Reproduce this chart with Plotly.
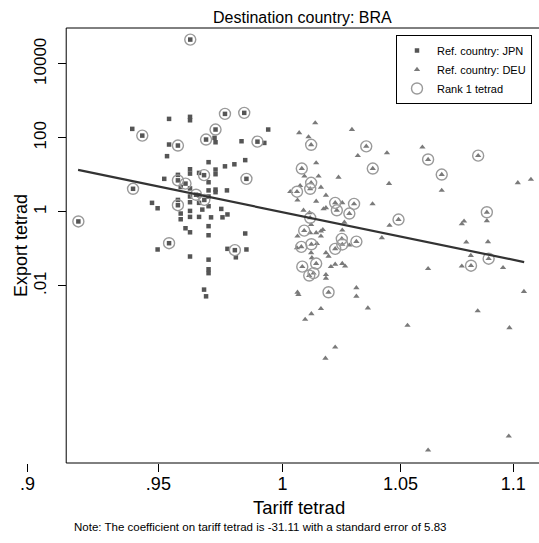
import math
import plotly.graph_objects as go

# ---------------- data ----------------
title_text = "Destination country: BRA"
x_title = "Tariff tetrad"
y_title = "Export tetrad"
note_text = "Note: The coefficient on tariff tetrad is -31.11 with a standard error of 5.83"

x_tick_vals = [0.9, 0.95, 1.0, 1.05, 1.1]
x_tick_text = [".9", ".95", "1", "1.05", "1.1"]
y_tick_vals = [0.01, 1, 100, 10000]
y_tick_text = [".01", "1", "100", "10000"]

jpn_tariff = [0.9626, 0.9542, 0.9625, 0.9625, 0.9765, 0.9843, 0.9398, 0.9437, 0.9727, 0.9941,
              0.9689, 0.9723, 0.9727, 0.9542, 0.9577, 0.9832, 0.9897, 0.9925, 0.9534, 0.9699,
              0.9625, 0.9625, 0.9727, 0.9727, 0.9765, 0.9803, 0.9847, 0.9681, 0.9661, 0.9523,
              0.9577, 0.9577, 0.9607, 0.9699, 0.9852, 0.9401, 0.9649, 0.9682, 0.9727, 0.9727,
              0.9773, 0.9699, 0.9577, 0.9475, 0.9497, 0.9625, 0.9625, 0.9625, 0.9588, 0.9588,
              0.9661, 0.9674, 0.9699, 0.9661, 0.9709, 0.9755, 0.9775, 0.9750, 0.9607, 0.9625,
              0.9699, 0.9699, 0.9847, 0.9542, 0.9497, 0.9775, 0.9852, 0.9809, 0.9805, 0.9625,
              0.9699, 0.9699, 0.9699, 0.9681, 0.9689, 0.9191, 0.9588, 0.9625, 0.9625, 0.9661,
              0.9699, 0.9577]
jpn_export = [45400, 326, 370, 299, 445, 474, 175, 115, 168, 168,
              90, 100, 76, 66, 62, 81, 79, 73, 32, 22,
              14.2, 10.8, 13.9, 10.4, 17, 19.3, 25, 9.8, 11.3, 7.8,
              10, 7.1, 5.8, 6.3, 7.8, 4.2, 2.9, 2.1, 4.0, 3.4,
              3.8, 3.8, 1.51, 1.75, 1.25, 1.82, 1.06, 0.73, 0.9, 0.63,
              1.75, 1.15, 1.42, 0.73, 0.71, 0.71, 0.85, 1.2, 0.36, 0.28,
              0.41, 0.233, 0.26, 0.142, 0.096, 0.1, 0.096, 0.059, 0.092, 0.062,
              0.051, 0.028, 0.022, 0.0079, 0.0052, 0.55, 4.7, 4.3, 2.6, 2.8,
              2.6, 2.1]
jpn_rank1 = [1, 0, 0, 0, 1, 1, 0, 1, 1, 0,
             1, 0, 0, 0, 1, 0, 1, 0, 0, 0,
             0, 0, 0, 0, 0, 0, 0, 1, 0, 0,
             0, 1, 1, 0, 1, 1, 1, 1, 0, 0,
             0, 0, 1, 0, 0, 0, 0, 0, 0, 0,
             0, 0, 0, 0, 0, 0, 0, 0, 0, 0,
             0, 0, 0, 1, 0, 0, 0, 0, 1, 0,
             0, 0, 0, 0, 0, 1, 0, 0, 0, 0,
             0, 0]

deu_tariff = [1.0136, 1.0069, 1.0108, 1.0119, 1.0291, 1.0352, 1.0316, 1.0441, 1.0595, 1.0620,
              1.0842, 1.0380, 1.0140, 1.0080, 1.0091, 1.0150, 1.0234, 1.0680, 1.0450, 1.0680,
              1.1021, 1.1081, 1.0119, 1.0115, 1.0160, 1.0060, 1.0032, 1.0073, 1.0062, 1.0140,
              1.0181, 1.0220, 1.0300, 1.0250, 1.0379, 1.0171, 1.0181, 1.0087, 1.0112, 1.0227,
              1.0280, 1.0881, 1.0491, 1.0115, 1.0119, 1.0881, 1.0779, 1.0769, 1.0259, 1.0452,
              1.0419, 1.0090, 1.0062, 1.0115, 1.0140, 1.0160, 1.0168, 1.0160, 1.0250, 1.0248,
              1.0310, 1.0250, 1.0220, 1.0120, 1.0078, 1.0280, 1.0143, 1.0060, 1.0789, 1.0886,
              1.0889, 1.0809, 1.0769, 1.0954, 1.0620, 1.0810, 1.0119, 1.0122, 1.0181, 1.0192,
              1.0220, 1.0250, 1.0262, 1.0202, 1.0140, 1.0082, 1.0111, 1.0129, 1.0181, 1.0181,
              1.0192, 1.0062, 1.0066, 1.0310, 1.0310, 1.1049, 1.0359, 1.0160, 1.0120, 1.0094,
              1.0840, 1.0983, 1.0530, 1.0220, 1.0179, 1.0980, 1.0620]
deu_export = [254, 137, 106, 65, 168, 59, 33, 39, 56, 26,
              33, 14.8, 21, 14.8, 9.2, 9.2, 8.6, 10.2, 5.8, 3.8,
              6.1, 7.5, 6.1, 4.2, 4.6, 3.5, 3.5, 5.1, 2.06, 1.93,
              2.8, 1.75, 1.64, 1.75, 1.64, 1.2, 1.28, 1.1, 0.94, 1.1,
              0.9, 0.975, 0.62, 0.69, 0.45, 0.57, 0.56, 0.47, 0.52, 0.43,
              0.198, 0.31, 0.22, 0.27, 0.27, 0.30, 0.33, 0.22, 0.32, 0.186,
              0.157, 0.131, 0.1, 0.133, 0.113, 0.125, 0.139, 0.106, 0.151, 0.155,
              0.054, 0.066, 0.034, 0.031, 0.029, 0.035, 0.078, 0.057, 0.078, 0.063,
              0.038, 0.040, 0.034, 0.033, 0.040, 0.033, 0.019, 0.022, 0.020, 0.016,
              0.0067, 0.0067, 0.0058, 0.0088, 0.0052, 0.0070, 0.0025, 0.0024, 0.00175, 0.00123,
              0.0021, 0.00073, 0.00085, 0.00022, 0.00011, 8.6e-7, 3.6e-7]
deu_rank1 = [0, 0, 0, 1, 0, 1, 0, 0, 0, 1,
             1, 1, 0, 1, 0, 0, 0, 1, 0, 0,
             0, 0, 1, 1, 0, 1, 0, 0, 0, 0,
             0, 1, 1, 0, 0, 0, 0, 0, 0, 1,
             1, 1, 1, 1, 0, 0, 0, 0, 0, 0,
             0, 1, 0, 0, 0, 0, 0, 0, 0, 1,
             1, 1, 1, 1, 1, 0, 0, 0, 0, 0,
             1, 0, 0, 0, 0, 1, 0, 0, 0, 0,
             0, 0, 0, 0, 1, 1, 1, 1, 0, 0,
             1, 0, 0, 0, 0, 0, 0, 0, 0, 0,
             0, 0, 0, 0, 0, 0, 0]

# log-log fit: ln(export) = intercept + slope * ln(tariff)
fit_slope = -31.11
fit_intercept = -0.02
fit_x = [0.919, 1.105]

# ---------------- layout geometry ----------------
W, H = 539, 543
ML, MR, MT, MB = 27, 0, 28, 80
PW, PH = W - ML - MR, H - MT - MB
x_range = [math.log10(0.8998), math.log10(1.1118)]
y_range = [-6.79, 4.97]
frame_left = 0.9145

FONT = "Liberation Sans, Arial, Helvetica, sans-serif"


def xdata_to_paper(v):
    return (math.log10(v) - x_range[0]) / (x_range[1] - x_range[0])


def px_x(p):
    return (p - ML) / PW


def px_y(p):
    return (H - MB - p) / PH


frame_left_paper = xdata_to_paper(frame_left)

fit_y = [math.exp(fit_intercept + fit_slope * math.log(v)) for v in fit_x]

rank_x = [x for x, r in zip(jpn_tariff, jpn_rank1) if r] + [x for x, r in zip(deu_tariff, deu_rank1) if r]
rank_y = [y for y, r in zip(jpn_export, jpn_rank1) if r] + [y for y, r in zip(deu_export, deu_rank1) if r]

fig = go.Figure()
fig.add_trace(go.Scatter(
    x=jpn_tariff, y=jpn_export, mode="markers", name="Ref. country: JPN",
    marker=dict(symbol="square", size=4.5, color="#555555", line=dict(width=0)),
))
fig.add_trace(go.Scatter(
    x=deu_tariff, y=deu_export, mode="markers", name="Ref. country: DEU",
    marker=dict(symbol="triangle-up", size=5.5, color="#7a7a7a", line=dict(width=0)),
))
fig.add_trace(go.Scatter(
    x=rank_x, y=rank_y, mode="markers", name="Rank 1 tetrad",
    marker=dict(symbol="circle-open", size=11, color="#9a9a9a", line=dict(width=1.4, color="#9a9a9a")),
))
fig.add_trace(go.Scatter(
    x=fit_x, y=fit_y, mode="lines", showlegend=False,
    line=dict(color="#333333", width=2.2),
))

fig.update_layout(
    width=W, height=H,
    margin=dict(l=ML, r=MR, t=MT, b=MB, pad=0),
    paper_bgcolor="white", plot_bgcolor="white",
    font=dict(family=FONT, color="black"),
    showlegend=True,
    legend=dict(
        x=px_x(396), y=px_y(35), xanchor="left", yanchor="top",
        bordercolor="black", borderwidth=1, bgcolor="white",
        font=dict(size=11, family=FONT, color="black"),
        tracegroupgap=0,
    ),
    xaxis=dict(
        type="log", range=x_range, showgrid=False, zeroline=False, showline=False,
        tickvals=x_tick_vals, ticktext=x_tick_text, ticks="outside", ticklen=8,
        tickcolor="black", tickwidth=1, ticklabelstandoff=-4,
        tickfont=dict(size=18, family=FONT, color="black"),
    ),
    yaxis=dict(
        type="log", range=y_range, showgrid=False, zeroline=False, showline=False,
        anchor="free", position=frame_left_paper, side="left",
        tickvals=y_tick_vals, ticktext=y_tick_text, ticks="outside", ticklen=8,
        tickcolor="black", tickwidth=1, tickangle=-90, ticklabelstandoff=5,
        tickfont=dict(size=17, family=FONT, color="black"),
    ),
    shapes=[dict(
        type="rect", xref="paper", yref="paper",
        x0=frame_left_paper, x1=1.02, y0=0, y1=1,
        line=dict(color="black", width=1), fillcolor="rgba(0,0,0,0)", layer="above",
    )],
    annotations=[
        dict(text=title_text, xref="paper", yref="paper", x=px_x(302), y=px_y(17),
             xanchor="center", yanchor="middle", showarrow=False,
             font=dict(size=16, family=FONT, color="black")),
        dict(text=x_title, xref="paper", yref="paper", x=px_x(299), y=px_y(507),
             xanchor="center", yanchor="middle", showarrow=False,
             font=dict(size=18.5, family=FONT, color="black")),
        dict(text=y_title, xref="paper", yref="paper", x=px_x(21), y=px_y(246),
             xanchor="center", yanchor="middle", showarrow=False, textangle=-90,
             font=dict(size=18, family=FONT, color="black")),
        dict(text=note_text, xref="paper", yref="paper", x=px_x(72), y=px_y(527),
             xanchor="left", yanchor="middle", showarrow=False,
             font=dict(size=11.5, family=FONT, color="black")),
    ],
)

fig.write_html(
    "out.html",
    config={"displayModeBar": False},
    post_script="document.body.style.margin='0';document.body.style.padding='0';"
                "document.documentElement.style.overflow='hidden';",
)
